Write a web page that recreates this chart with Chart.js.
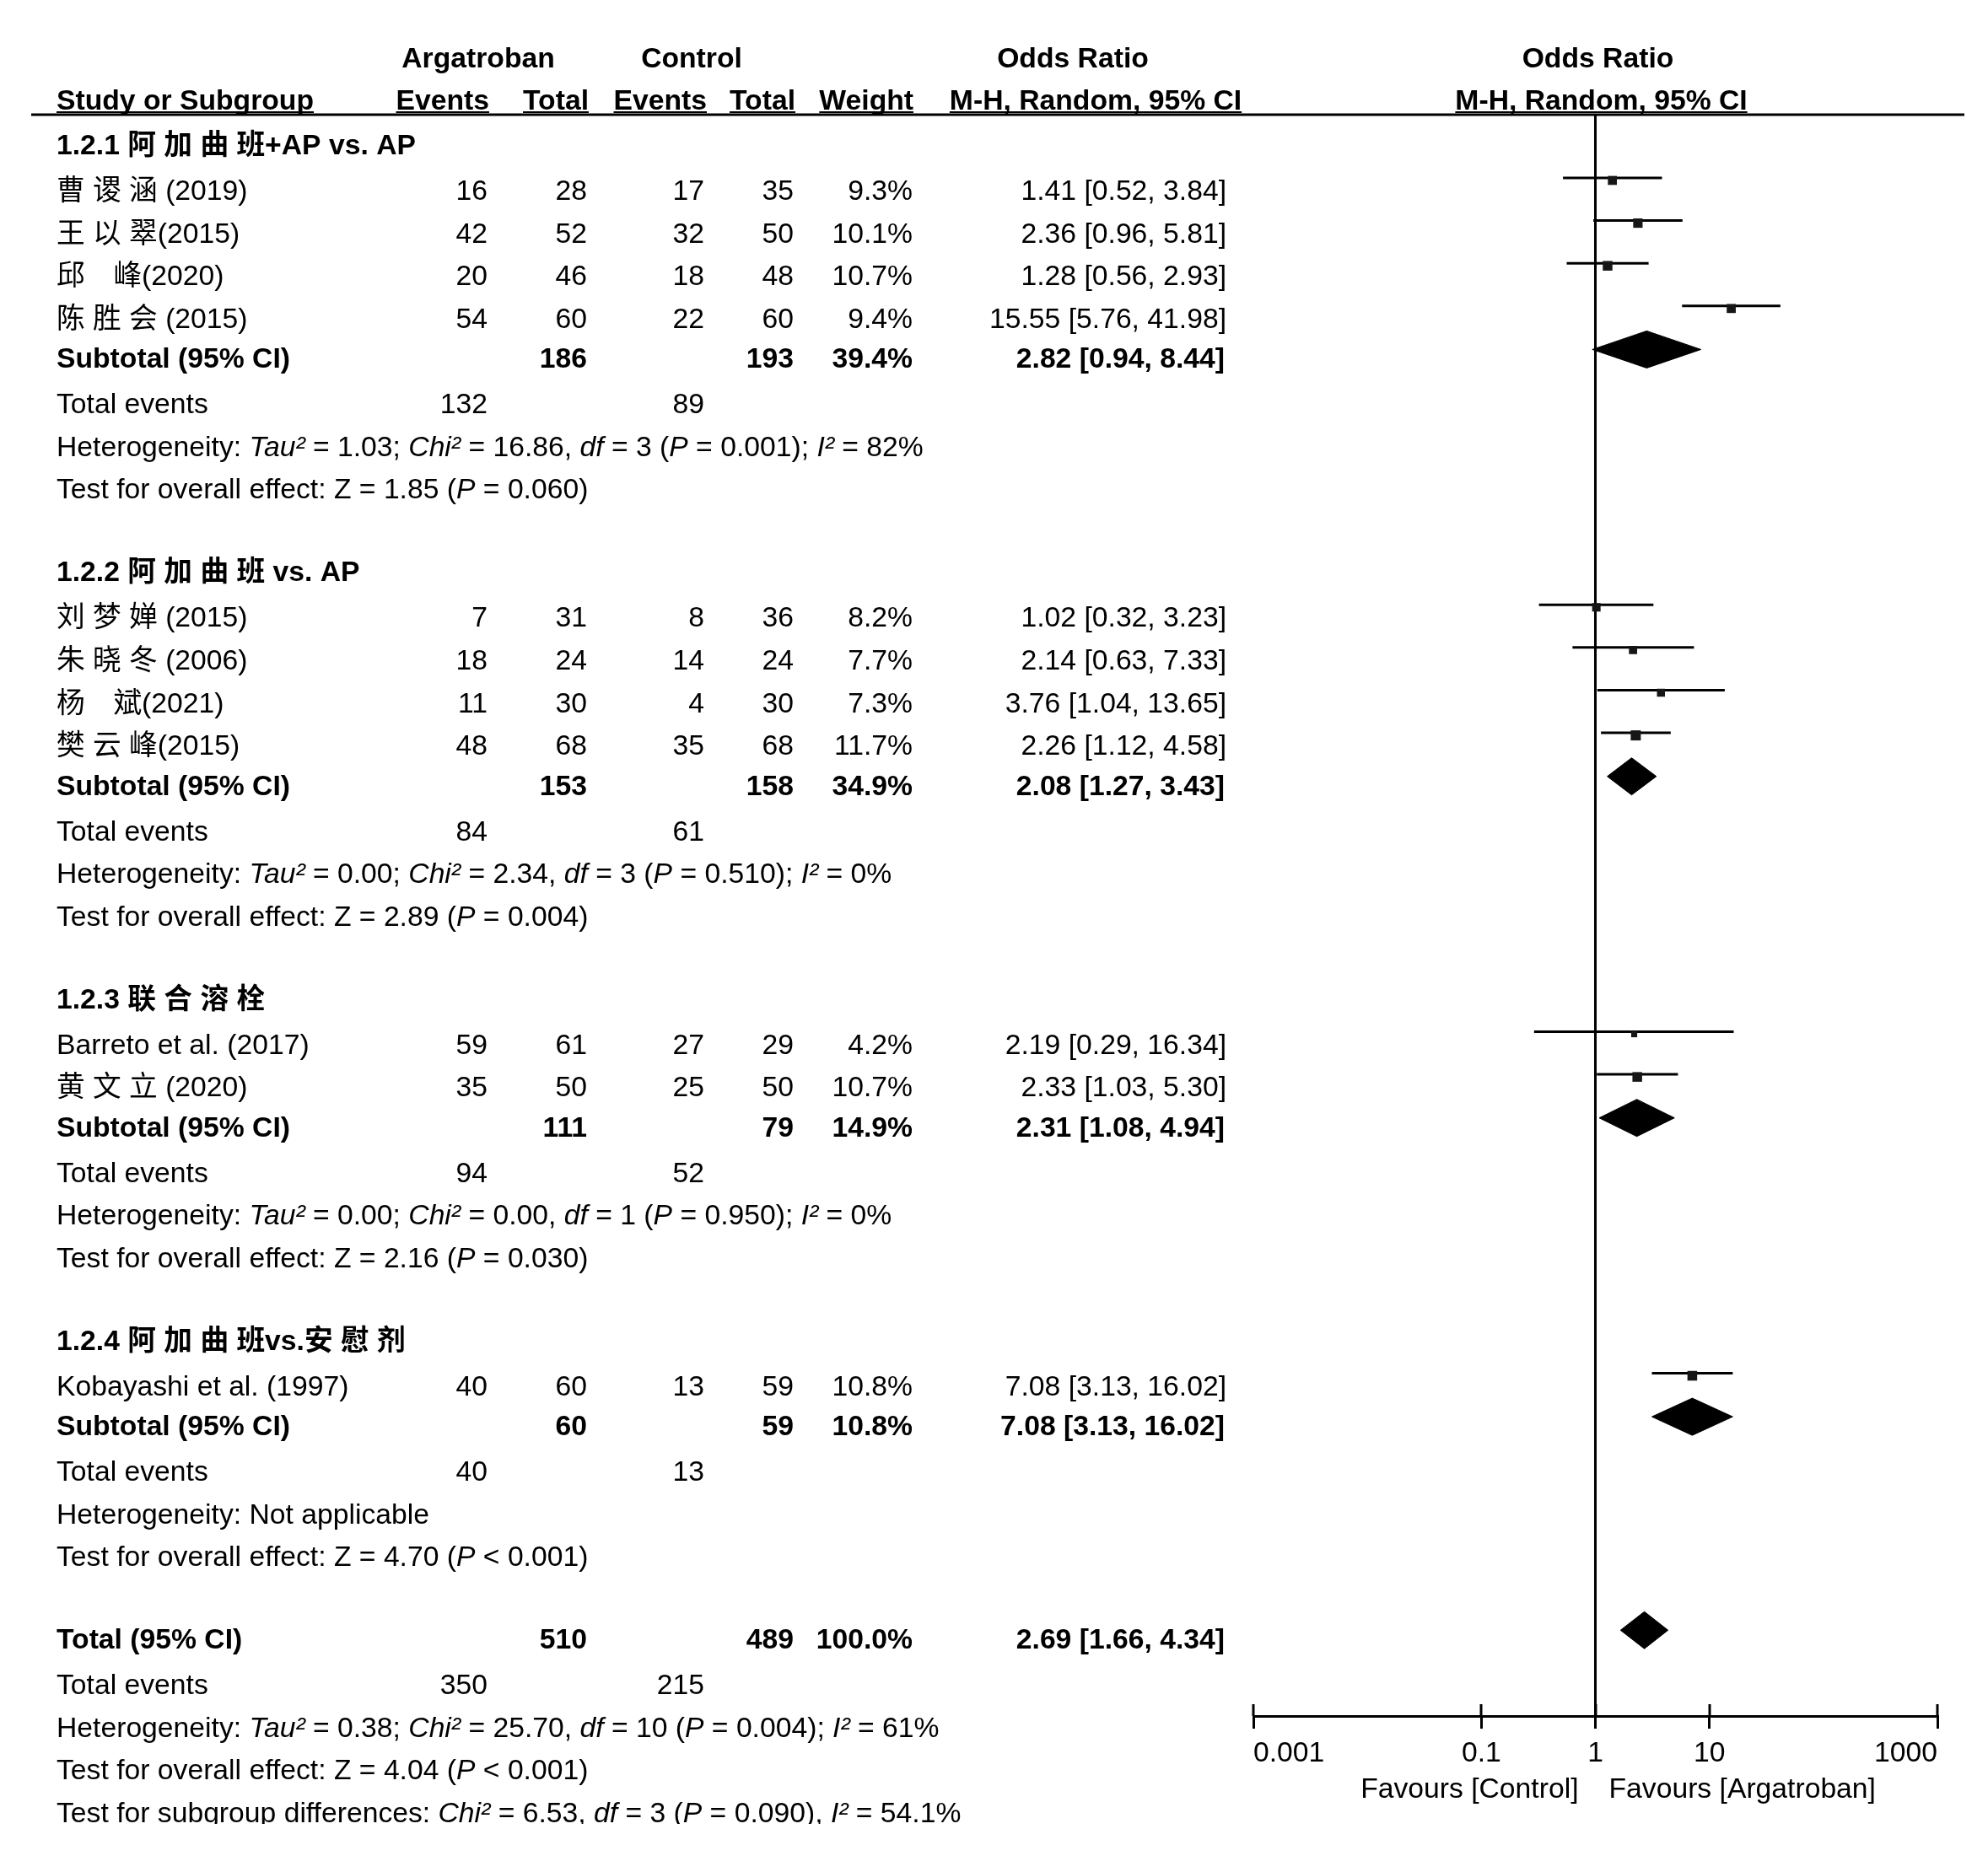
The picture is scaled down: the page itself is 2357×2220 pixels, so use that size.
<!DOCTYPE html>
<html>
<head>
<meta charset="utf-8">
<script src="https://cdn.jsdelivr.net/npm/chart.js@4.4.1/dist/chart.umd.min.js"></script>
<style>
html,body{margin:0;padding:0;background:#fff;}
#wrap{width:2357px;height:2220px;position:relative;}
</style>
</head>
<body>
<div id="wrap"><canvas id="c" width="2357" height="2220"></canvas></div>
<script>
// ---------------- DATA ----------------
const groupLabels = ['1.2.1 阿 加 曲 班+AP vs. AP', '1.2.2 阿 加 曲 班 vs. AP', '1.2.3 联 合 溶 栓', '1.2.4 阿 加 曲 班vs.安 慰 剂'];
const studyLabels = ['曹 谡 涵 (2019)', '王 以 翠(2015)', '邱　峰(2020)', '陈 胜 会 (2015)',
  '刘 梦 婵 (2015)', '朱 晓 冬 (2006)', '杨　斌(2021)', '樊 云 峰(2015)',
  'Barreto et al. (2017)', '黄 文 立 (2020)', 'Kobayashi et al. (1997)'];
const studyGroup = [0,0,0,0,1,1,1,1,2,2,3];
const argEvents = [16,42,20,54,7,18,11,48,59,35,40];
const argTotal  = [28,52,46,60,31,24,30,68,61,50,60];
const ctlEvents = [17,32,18,22,8,14,4,35,27,25,13];
const ctlTotal  = [35,50,48,60,36,24,30,68,29,50,59];
const studyWeight = [9.3,10.1,10.7,9.4,8.2,7.7,7.3,11.7,4.2,10.7,10.8];
const studyOR = [1.41,2.36,1.28,15.55,1.02,2.14,3.76,2.26,2.19,2.33,7.08];
const studyLo = [0.52,0.96,0.56,5.76,0.32,0.63,1.04,1.12,0.29,1.03,3.13];
const studyHi = [3.84,5.81,2.93,41.98,3.23,7.33,13.65,4.58,16.34,5.30,16.02];

const subArgTotal = [186,153,111,60];
const subCtlTotal = [193,158,79,59];
const subWeight = [39.4,34.9,14.9,10.8];
const subOR = [2.82,2.08,2.31,7.08];
const subLo = [0.94,1.27,1.08,3.13];
const subHi = [8.44,3.43,4.94,16.02];
const subArgEvents = [132,84,94,40];
const subCtlEvents = [89,61,52,13];
const subHet = [
  'Heterogeneity: *Tau²* = 1.03; *Chi²* = 16.86, *df* = 3 (*P* = 0.001); *I²* = 82%',
  'Heterogeneity: *Tau²* = 0.00; *Chi²* = 2.34, *df* = 3 (*P* = 0.510); *I²* = 0%',
  'Heterogeneity: *Tau²* = 0.00; *Chi²* = 0.00, *df* = 1 (*P* = 0.950); *I²* = 0%',
  'Heterogeneity: Not applicable'];
const subTest = [
  'Test for overall effect: Z = 1.85 (*P* = 0.060)',
  'Test for overall effect: Z = 2.89 (*P* = 0.004)',
  'Test for overall effect: Z = 2.16 (*P* = 0.030)',
  'Test for overall effect: Z = 4.70 (*P* < 0.001)'];

const totalArg = 510, totalCtl = 489, totalWeight = 100.0;
const totalOR = 2.69, totalLo = 1.66, totalHi = 4.34;
const totalArgEvents = 350, totalCtlEvents = 215;
const totalHet = 'Heterogeneity: *Tau²* = 0.38; *Chi²* = 25.70, *df* = 10 (*P* = 0.004); *I²* = 61%';
const totalTest = 'Test for overall effect: Z = 4.04 (*P* < 0.001)';
const subgroupDiff = 'Test for subgroup differences: *Chi²* = 6.53, *df* = 3 (*P* = 0.090), *I²* = 54.1%';

const axisTicks = [0.001, 0.1, 1, 10, 1000];
const axisTickLabels = ['0.001', '0.1', '1', '10', '1000'];
const favourLeft = 'Favours [Control]';
const favourRight = 'Favours [Argatroban]';

// ---------------- ROW LAYOUT ----------------
const rows = [];
const studyRow = [];
const subRow = [];
let k = -1;
groupLabels.forEach((g, gi) => {
  rows.push({k, type:'group', gi}); k++;
  studyGroup.forEach((sg, si) => { if (sg === gi) { rows.push({k, type:'study', si}); studyRow[si] = k; k++; } });
  rows.push({k, type:'subtotal', gi}); subRow[gi] = k; k++;
  rows.push({k, type:'events', gi}); k++;
  rows.push({k, type:'het', gi}); k++;
  rows.push({k, type:'test', gi}); k++;
  k++;
});
const totalRow = k;
rows.push({k: k, type:'total'}); rows.push({k: k+1, type:'tevents'});
rows.push({k: k+2, type:'thet'}); rows.push({k: k+3, type:'ttest'}); rows.push({k: k+4, type:'tsub'});

const CI_OFF = -0.28, SQ_OFF = -0.22, DIA_OFF = -0.26, DIA_H = 0.435, BOLD_OFF = -0.065;

// ---------------- DATASETS ----------------
const FAMILY = '"Liberation Sans", "Noto Sans CJK SC", Arial, sans-serif';
Chart.defaults.font.family = FAMILY;

const datasets = [];
studyOR.forEach((v, si) => {
  const y = studyRow[si] + CI_OFF;
  datasets.push({type:'line', data:[{x:studyLo[si], y}, {x:studyHi[si], y}],
    borderColor:'#000', borderWidth:3, pointRadius:0, fill:false, clip:false, order:2});
});
datasets.push({type:'scatter',
  data: studyOR.map((v, si) => ({x: v, y: studyRow[si] + SQ_OFF})),
  pointStyle:'rect', pointRadius: studyWeight.map(w => 3.5*Math.sqrt(w)/Math.SQRT2),
  backgroundColor:'#161616', borderWidth:0, pointBorderWidth:0, order:1});
function diamond(lo, est, hi, row) {
  const y = row + DIA_OFF;
  return {type:'line', data:[{x:lo,y},{x:est,y:y-DIA_H},{x:hi,y},{x:est,y:y+DIA_H},{x:lo,y}],
    borderColor:'#000', backgroundColor:'#000', borderWidth:1, pointRadius:0, fill:'shape', tension:0, clip:false, order:1};
}
subOR.forEach((v, gi) => datasets.push(diamond(subLo[gi], v, subHi[gi], subRow[gi])));
datasets.push(diamond(totalLo, totalOR, totalHi, totalRow));
const Y_MIN = -1.76, Y_MAX = 35.75;
datasets.push({type:'line', data:[{x:1, y:Y_MIN}, {x:1, y:Y_MAX}], borderColor:'#000', borderWidth:3, pointRadius:0, fill:false, order:3});

// ---------------- TEXT PLUGIN ----------------
const FS = 33.7;
function fnt(bold, italic) { return (italic ? 'italic ' : '') + (bold ? 'bold ' : '') + FS + 'px ' + FAMILY; }
function drawRich(ctx, str, x, y, align, bold) {
  const segs = str.split('*');
  const widths = segs.map((s, i) => { ctx.font = fnt(bold, i % 2 === 1); return ctx.measureText(s).width; });
  const total = widths.reduce((a, b) => a + b, 0);
  let sx = align === 'right' ? x - total : (align === 'center' ? x - total / 2 : x);
  const start = sx;
  ctx.textAlign = 'left'; ctx.textBaseline = 'alphabetic'; ctx.fillStyle = '#000';
  segs.forEach((s, i) => { ctx.font = fnt(bold, i % 2 === 1); ctx.fillText(s, sx, y); sx += widths[i]; });
  return {start, total};
}
const fmt2 = v => v.toFixed(2);
const ciText = (o, l, h) => fmt2(o) + ' [' + fmt2(l) + ', ' + fmt2(h) + ']';

const COL = {label:67, ev1:578, tot1:696, ev2:835, tot2:941, wt:1082, ci:1454};

const tablePlugin = {
  id: 'table',
  afterDraw(chart) {
    const ctx = chart.ctx;
    const ys = chart.scales.y, xs = chart.scales.x;
    const ca = chart.chartArea;
    const base = r => ys.getPixelForValue(r) + 12;
    ctx.save();
    ctx.strokeStyle = '#000'; ctx.lineWidth = 3;
    axisTicks.forEach(v => {
      const px = Math.round(xs.getPixelForValue(v));
      ctx.beginPath(); ctx.moveTo(px, ca.bottom - 14); ctx.lineTo(px, ca.bottom); ctx.stroke();
    });
    ctx.beginPath(); ctx.moveTo(37, ca.top); ctx.lineTo(2329, ca.top); ctx.stroke();

    const x1 = xs.getPixelForValue(1);
    const h1 = base(-3.1), h2 = base(-2.12);
    drawRich(ctx, 'Argatroban', 567, h1, 'center', true);
    drawRich(ctx, 'Control', 820, h1, 'center', true);
    drawRich(ctx, 'Odds Ratio', 1272, h1, 'center', true);
    drawRich(ctx, 'Odds Ratio', x1 + 3, h1, 'center', true);
    const under = [];
    under.push(drawRich(ctx, 'Study or Subgroup', COL.label, h2, 'left', true));
    under.push(drawRich(ctx, 'Events', COL.ev1 + 2, h2, 'right', true));
    under.push(drawRich(ctx, 'Total', COL.tot1 + 2, h2, 'right', true));
    under.push(drawRich(ctx, 'Events', COL.ev2 + 3, h2, 'right', true));
    under.push(drawRich(ctx, 'Total', COL.tot2 + 2, h2, 'right', true));
    under.push(drawRich(ctx, 'Weight', COL.wt + 1, h2, 'right', true));
    under.push(drawRich(ctx, 'M-H, Random, 95% CI', 1299, h2, 'center', true));
    under.push(drawRich(ctx, 'M-H, Random, 95% CI', x1 + 7, h2, 'center', true));
    ctx.lineWidth = 2;
    under.forEach(u => { ctx.beginPath(); ctx.moveTo(u.start, ca.top - 3); ctx.lineTo(u.start + u.total, ca.top - 3); ctx.stroke(); });

    rows.forEach(r => {
      const y = base(r.k);
      const yb = base(r.k + BOLD_OFF);
      switch (r.type) {
        case 'group': drawRich(ctx, groupLabels[r.gi], COL.label, yb, 'left', true); break;
        case 'study': {
          const s = r.si;
          drawRich(ctx, studyLabels[s], COL.label, y, 'left', false);
          drawRich(ctx, String(argEvents[s]), COL.ev1, y, 'right', false);
          drawRich(ctx, String(argTotal[s]), COL.tot1, y, 'right', false);
          drawRich(ctx, String(ctlEvents[s]), COL.ev2, y, 'right', false);
          drawRich(ctx, String(ctlTotal[s]), COL.tot2, y, 'right', false);
          drawRich(ctx, studyWeight[s].toFixed(1) + '%', COL.wt, y, 'right', false);
          drawRich(ctx, ciText(studyOR[s], studyLo[s], studyHi[s]), COL.ci, y, 'right', false);
          break; }
        case 'subtotal': {
          const g = r.gi;
          drawRich(ctx, 'Subtotal (95% CI)', COL.label, yb, 'left', true);
          drawRich(ctx, String(subArgTotal[g]), COL.tot1, yb, 'right', true);
          drawRich(ctx, String(subCtlTotal[g]), COL.tot2, yb, 'right', true);
          drawRich(ctx, subWeight[g].toFixed(1) + '%', COL.wt, yb, 'right', true);
          drawRich(ctx, ciText(subOR[g], subLo[g], subHi[g]), COL.ci - 2, yb, 'right', true);
          break; }
        case 'events':
          drawRich(ctx, 'Total events', COL.label, y, 'left', false);
          drawRich(ctx, String(subArgEvents[r.gi]), COL.ev1, y, 'right', false);
          drawRich(ctx, String(subCtlEvents[r.gi]), COL.ev2, y, 'right', false);
          break;
        case 'het': drawRich(ctx, subHet[r.gi], COL.label, y, 'left', false); break;
        case 'test': drawRich(ctx, subTest[r.gi], COL.label, y, 'left', false); break;
        case 'total':
          drawRich(ctx, 'Total (95% CI)', COL.label, yb, 'left', true);
          drawRich(ctx, String(totalArg), COL.tot1, yb, 'right', true);
          drawRich(ctx, String(totalCtl), COL.tot2, yb, 'right', true);
          drawRich(ctx, totalWeight.toFixed(1) + '%', COL.wt, yb, 'right', true);
          drawRich(ctx, ciText(totalOR, totalLo, totalHi), COL.ci - 2, yb, 'right', true);
          break;
        case 'tevents':
          drawRich(ctx, 'Total events', COL.label, y, 'left', false);
          drawRich(ctx, String(totalArgEvents), COL.ev1, y, 'right', false);
          drawRich(ctx, String(totalCtlEvents), COL.ev2, y, 'right', false);
          break;
        case 'thet': drawRich(ctx, totalHet, COL.label, y, 'left', false); break;
        case 'ttest': drawRich(ctx, totalTest, COL.label, y, 'left', false); break;
        case 'tsub': drawRich(ctx, subgroupDiff, COL.label, y, 'left', false); break;
      }
    });
    const fy = ca.bottom + 97;
    drawRich(ctx, favourLeft, x1 - 20, fy, 'right', false);
    drawRich(ctx, favourRight, x1 + 16, fy, 'left', false);
    ctx.fillStyle = '#fff';
    ctx.fillRect(0, 2163, 1480, 60);
    ctx.restore();
  }
};

// ---------------- CHART ----------------
new Chart(document.getElementById('c'), {
  type: 'scatter',
  data: { datasets },
  options: {
    responsive: false,
    animation: false,
    devicePixelRatio: 1,
    layout: { autoPadding: false, padding: { left: 1486, right: 60, top: 136, bottom: 105 } },
    plugins: { legend: { display: false }, tooltip: { enabled: false } },
    events: [],
    scales: {
      x: {
        type: 'logarithmic', min: 0.001, max: 1000, position: 'bottom',
        afterBuildTicks: s => { s.ticks = axisTicks.map(v => ({ value: v })); },
        afterFit: s => { s.height = 80; },
        ticks: {
          callback: (v, i) => axisTickLabels[i],
          align: 'inner', padding: 9, color: '#000', autoSkip: false, maxRotation: 0,
          font: { size: FS, family: FAMILY }
        },
        grid: { display: true, drawOnChartArea: false, drawTicks: true, tickLength: 15, lineWidth: 3, color: '#000' },
        border: { display: true, width: 3, color: '#000' }
      },
      y: { type: 'linear', reverse: true, min: Y_MIN, max: Y_MAX, display: false }
    }
  },
  plugins: [tablePlugin]
});
</script>
</body>
</html>
